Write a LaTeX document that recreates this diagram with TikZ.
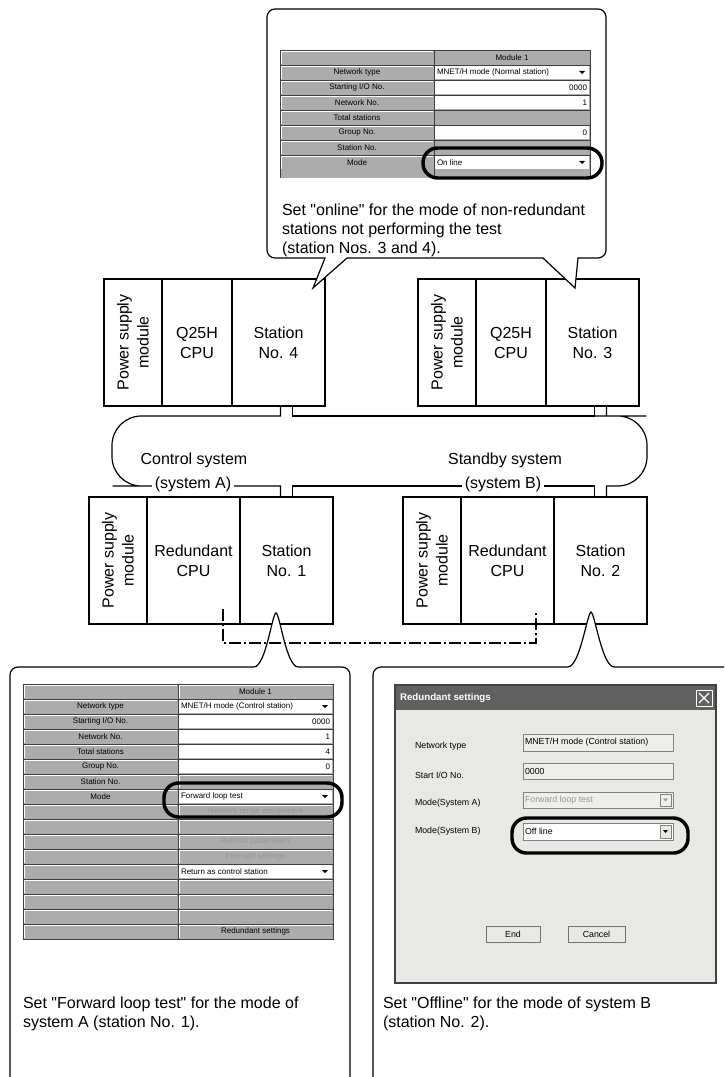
\documentclass[tikz,border=0pt]{standalone}
\usepackage{fontspec}
\setmainfont{Liberation Sans}[Ligatures=TeXOff]
\usetikzlibrary{positioning, calc}
\definecolor{btngray}{RGB}{172,172,172}
\definecolor{gridgray}{RGB}{64,64,64}
\definecolor{dlggray}{RGB}{232,232,228}
\definecolor{fieldgray}{RGB}{238,238,236}
\definecolor{titlegray}{RGB}{96,96,96}
\definecolor{offtext}{RGB}{150,150,150}

\begin{document}
\begin{tikzpicture}[x=0.75pt, y=-0.75pt,
    every node/.style={font=\fontsize{12}{15}\selectfont, inner sep=0pt, outer sep=0pt},
    module/.style 2 args={draw, line width=1.1pt, minimum width=#1, minimum height=#2, align=center},
    psutext/.style={rotate=90, align=center},
    bus/.style={line width=0.9pt},
    buslabel/.style={fill=white, inner xsep=2pt, inner ysep=1pt},
    callout/.style={draw, fill=white, line width=0.9pt},
    note/.style={anchor=base west, align=left, font=\fontsize{12}{14.25}\selectfont},
    trkcable/.style={line width=1.9pt, dash pattern=on 9pt off 2pt on 2pt off 2pt},
    hilite/.style={line width=2.6pt, rounded corners=11pt},
    cell/.style={fill=btngray, draw=gridgray, line width=0.5pt},
    tbltext/.style={font=\fontsize{6}{7}\selectfont},
    dlgtext/.style={font=\fontsize{6.6}{7}\selectfont},
    field/.style={draw=gray, fill=#1, line width=0.5pt},
    dlgbtn/.style={draw=gray!90!black, fill=dlggray, line width=0.6pt, minimum height=12pt, dlgtext}
]
\useasboundingbox (0,0) rectangle (724,1077);
\clip (0,0) rectangle (724,1077);

% upper racks
\node[module={43.5pt}{95.25pt}, anchor=north west] (psu4) at (104,279) {};
\node[module={52.5pt}{95.25pt}, right=0pt of psu4] (cpu4) {Q25H\\CPU};
\node[module={69.75pt}{95.25pt}, right=0pt of cpu4] (sta4) {Station\\No. 4};
\node[psutext] (psu4txt) at (psu4) {Power supply\\module};

\node[module={43.5pt}{95.25pt}, anchor=north west] (psu3) at (418,279) {};
\node[module={52.5pt}{95.25pt}, right=0pt of psu3] (cpu3) {Q25H\\CPU};
\node[module={69.75pt}{95.25pt}, right=0pt of cpu3] (sta3) {Station\\No. 3};
\node[psutext] (psu3txt) at (psu3) {Power supply\\module};

% lower racks
\node[module={43.5pt}{95.25pt}, anchor=north west] (psuA) at (89,497) {};
\node[module={69.75pt}{95.25pt}, right=0pt of psuA] (cpuA) {Redundant\\CPU};
\node[module={69.75pt}{95.25pt}, right=0pt of cpuA] (staA) {Station\\No. 1};
\node[psutext] (psuAtxt) at (psuA) {Power supply\\module};

\node[module={43.5pt}{95.25pt}, anchor=north west] (psuB) at (403,497) {};
\node[module={69.75pt}{95.25pt}, right=0pt of psuB] (cpuB) {Redundant\\CPU};
\node[module={69.75pt}{95.25pt}, right=0pt of cpuB] (staB) {Station\\No. 2};
\node[psutext] (psuBtxt) at (psuB) {Power supply\\module};

% network loop
\draw[bus] ($(sta4.south -| staA.north)+(-6,0)$) -- ++(0,10) -- (142,416) [rounded corners=22pt] -- (112,416) -- (112,486) -- (142,486) [sharp corners] -| ($(staA.north)+(-6,0)$);
\draw[bus] ($(staA.north)+(6,0)$) -- ++(0,-11) -| ($(staB.north)+(-6,0)$);
\draw[bus] ($(staB.north)+(6,0)$) -- ++(0,-11) -- (617,486) [rounded corners=22pt] -- (647,486) -- (647,416) -- (617,416) [sharp corners] -| ($(sta3.south -| staB.north)+(6,0)$);
\draw[bus] ($(sta3.south -| staB.north)+(-6,0)$) -- ++(0,10) -| ($(sta4.south -| staA.north)+(6,0)$);

\node (ctrlsys) at (194,460) {Control system};
\node[buslabel] (sysA) at (193,484) {(system A)};
\node (stbysys) at (505,460) {Standby system};
\node[buslabel] (sysB) at (503,484) {(system B)};

% callout for the non-redundant stations
\draw[callout] (313,288) -- (325,258) -- (300,258) [rounded corners=6pt] -- (267,258) -- (267,9) -- (606,9) -- (606,258) -- (590,258) [sharp corners] -- (578,258) -- (575,288) -- (543,258) -- (347,258) -- cycle;

\begin{scope}[shift={(280,50)}, every node/.append style={tbltext}]
  \foreach \r in {0,...,7} {
    \draw[cell] (0,\r*15) rectangle (154,\r*15+15);
    \draw[cell] (154,\r*15) rectangle (310,\r*15+15);
    \draw[white, line width=0.4pt] (0.8,\r*15+14.2) |- (153.2,\r*15+0.8);
  }
  \fill[btngray] (0,120) rectangle (310,128);
  \draw[gridgray, line width=0.5pt] (0,120) -- (0,128) (154,120) -- (154,128) (310,120) -- (310,128);
  \foreach \r in {1,2,3,5,7}
    \fill[white] (155,\r*15+1) rectangle (309,\r*15+14);
  \foreach \r/\t in {1/Network type, 2/{Starting I/O No.}, 3/Network No., 4/Total stations, 5/Group No., 6/Station No., 7/Mode}
    \node (tlab\r) at (77,\r*15+7.5) {\t};
  \node (thead) at (232,7.5) {Module 1};
  \node[anchor=west] (tval1) at (157,22.5) {MNET/H mode (Normal station)};
  \node[anchor=east] (tval2) at (307,37.5) {0000};
  \node[anchor=east] (tval3) at (307,52.5) {1};
  \node[anchor=east] (tval5) at (307,82.5) {0};
  \node[anchor=west] (tval7) at (157,112.5) {On line};
  \foreach \r in {1,7}
    \fill (299,\r*15+6) -- (305,\r*15+6) -- (302,\r*15+9) -- cycle;
\end{scope}
\draw[hilite] (423,148) rectangle (602,178);
\node[note] (topnote) at (282,253) {Set "online" for the mode of non-redundant\\stations not performing the test\\(station Nos. 3 and 4).};

% callout for station No. 1
\draw[callout] (10,1100) [rounded corners=6pt] -- (10,667) -- (240,667) [sharp corners] -- (254,667) .. controls (266,666) and (272,614) .. (276,613) .. controls (280,614) and (286,666) .. (298,667) -- (312,667) [rounded corners=6pt] -- (350,667) -- (350,1100) -- cycle;

\begin{scope}[shift={(23,684)}, every node/.append style={tbltext}]
  \foreach \r in {0,...,16} {
    \draw[cell] (0,\r*15) rectangle (155,\r*15+15);
    \draw[cell] (155,\r*15) rectangle (310,\r*15+15);
    \draw[white, line width=0.4pt] (0.8,\r*15+14.2) |- (154.2,\r*15+0.8);
    \draw[white, line width=0.4pt] (155.8,\r*15+14.2) |- (309.2,\r*15+0.8);
  }
  \foreach \r in {1,2,3,4,5,7,12}
    \fill[white] (156,\r*15+1) rectangle (309,\r*15+14);
  \foreach \r/\t in {1/Network type, 2/{Starting I/O No.}, 3/Network No., 4/Total stations, 5/Group No., 6/Station No., 7/Mode}
    \node (llab\r) at (77.5,\r*15+7.5) {\t};
  \node (lhead) at (232.5,7.5) {Module 1};
  \node[anchor=west] (lval1) at (158,22.5) {MNET/H mode (Control station)};
  \foreach \r/\t in {2/0000, 3/1, 4/4, 5/0}
    \node[anchor=east] (lval\r) at (307,\r*15+7.5) {\t};
  \node[anchor=west] (lval7) at (158,112.5) {Forward loop test};
  \foreach \r/\t in {8/Network range assignment, 10/Refresh parameters, 11/Interrupt settings}
    \node[text=offtext] (lval\r) at (232.5,\r*15+7.5) {\t};
  \node[anchor=west] (lval12) at (158,187.5) {Return as control station};
  \node (lval16) at (232.5,247.5) {Redundant settings};
  \foreach \r in {1,7,12}
    \fill (299,\r*15+6) -- (305,\r*15+6) -- (302,\r*15+9) -- cycle;
\end{scope}
\draw[hilite] (164,783) rectangle (342,817);
\node[note] (leftnote) at (23,1027) {Set "Forward loop test" for the mode of\\system A (station No. 1).};

% callout for station No. 2
\draw[callout] (373,1100) [rounded corners=6pt] -- (373,667) -- (555,667) [sharp corners] -- (568,667) .. controls (580,666) and (587,614) .. (591,612) .. controls (595,614) and (602,666) .. (614,667) -- (628,667) [rounded corners=6pt] -- (740,667) -- (740,1100) -- cycle;

% redundant settings dialog
\draw[draw=gridgray, fill=dlggray, line width=1.2pt] (395,685) rectangle (716,983);
\fill[titlegray] (396,686) rectangle (715,710);
\node[anchor=west, text=white, font=\fontsize{7.3}{8}\selectfont\bfseries] (dlgtitle) at (400,698) {Redundant settings};
\node[draw=white, fill=titlegray, line width=0.6pt, minimum width=12pt, minimum height=12pt] (dlgclose) at (704,698) {};
\draw[white, line width=1pt] ($(dlgclose.south west)+(3,-3)$) -- ($(dlgclose.north east)+(-3,3)$);
\draw[white, line width=1pt] ($(dlgclose.north west)+(3,3)$) -- ($(dlgclose.south east)+(-3,-3)$);

\node[dlgtext, anchor=west] (lbnet) at (415,746) {Network type};
\node[dlgtext, anchor=west] (lbsio) at (415,775) {Start I/O No.};
\node[dlgtext, anchor=west] (lbma) at (415,803) {Mode(System A)};
\node[dlgtext, anchor=west] (lbmb) at (415,831) {Mode(System B)};

\draw[field=fieldgray] (523,734) rectangle (673,751);
\node[dlgtext, anchor=west] (fnet) at (525,742.5) {MNET/H mode (Control station)};
\draw[field=fieldgray] (523,763) rectangle (673,779);
\node[dlgtext, anchor=west] (fsio) at (525,771) {0000};
\draw[field=fieldgray] (523,792) rectangle (673,808);
\node[dlgtext, anchor=west, text=offtext] (fma) at (525,800) {Forward loop test};
\draw[field=fieldgray] (660,794) rectangle (671,806);
\fill[offtext] (663,798.5) -- (668,798.5) -- (665.5,801.5) -- cycle;
\draw[field=white] (523,823) rectangle (673,840);
\node[dlgtext, anchor=west] (fmb) at (525,831.5) {Off line};
\draw[field=dlggray] (660,825) rectangle (671,838);
\fill (663,830) -- (668,830) -- (665.5,833) -- cycle;

\node[dlgbtn, minimum width=40.5pt] (btnend) at (513,934) {End};
\node[dlgbtn, minimum width=42.75pt] (btncancel) at (596.5,934) {Cancel};

\draw[hilite] (512,818) rectangle (688,853);
\node[note] (rightnote) at (383,1027) {Set "Offline" for the mode of system B\\(station No. 2).};

% tracking cable
\coordinate (trkA) at ($(cpuA.south east)+(-17,-15)$);
\coordinate (trkB) at ($(cpuB.south east)+(-18,-12)$);
\draw[trkcable] (trkA) -- ++(0,34) -| (trkB);

\end{tikzpicture}
\end{document}
